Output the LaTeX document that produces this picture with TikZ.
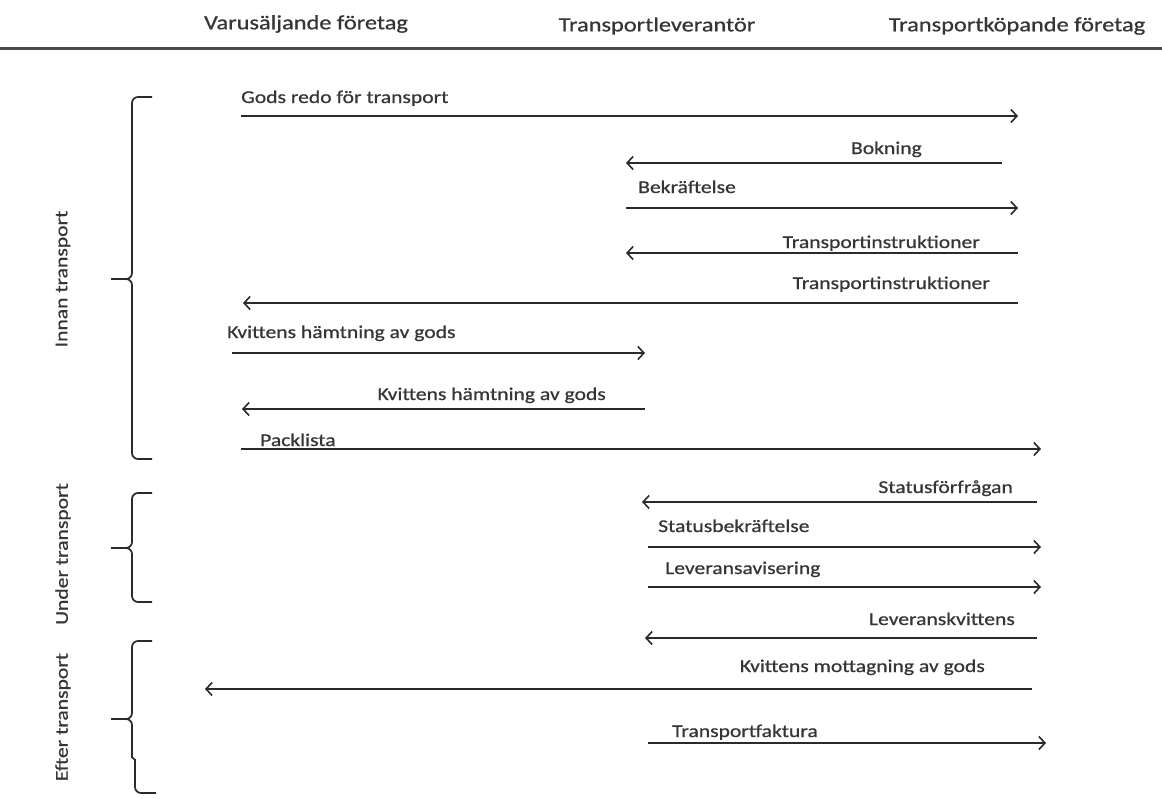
\documentclass[tikz,border=0pt]{standalone}
\usepackage{fontspec}
\setmainfont{Carlito}
\newfontfamily\lblfont{Carlito}[FakeBold=0.6]
\usetikzlibrary{arrows.meta}
\definecolor{ink}{HTML}{2A2A2A}
\definecolor{txt}{HTML}{353535}
% wide setting of the Calibri-like face
\newcommand{\widetxt}[1]{\scalebox{1.2}[1]{#1}}
\begin{document}
\begin{tikzpicture}[x=1pt,y=-1pt,
  msg/.style={draw=ink, line width=1.6pt,
    -{Straight Barb[length=6pt,width=13pt,line width=1.6pt]}},
  lbl/.style={inner sep=0pt, text=txt, font=\lblfont\fontsize{18}{21}\selectfont},
  head/.style={inner sep=0pt, text=txt, font=\lblfont\fontsize{20.3}{24}\selectfont},
  phase/.style={lbl, rotate=90},
  bracket/.style={draw=ink, line width=1.7pt, rounded corners=6pt}]
\useasboundingbox (0,0) rectangle (1162,798);

% column headings and rule
\node[head] (h1) at (306,24) {\widetxt{Varusäljande företag}};
\node[head] (h2) at (657,26) {\widetxt{Transportleverantör}};
\node[head] (h3) at (1017,26) {\widetxt{Transportköpande företag}};
\coordinate (ruleL) at (0,48);
\coordinate (ruleR) at (1162,48);
\draw[draw=ink!85, line width=3pt] (ruleL) -- (ruleR);

% message end points
\coordinate (a1) at (241,116);  \coordinate (b1) at (1018,116);
\coordinate (a2) at (1002,163); \coordinate (b2) at (626,163);
\coordinate (a3) at (626,208);  \coordinate (b3) at (1018,208);
\coordinate (a4) at (1018,253); \coordinate (b4) at (626,253);
\coordinate (a5) at (1018,303); \coordinate (b5) at (243,303);
\coordinate (a6) at (232,353);  \coordinate (b6) at (645,353);
\coordinate (a7) at (645,409);  \coordinate (b7) at (242,409);
\coordinate (a8) at (241,449);  \coordinate (b8) at (1041,449);
\coordinate (a9) at (1037,502); \coordinate (b9) at (642,502);
\coordinate (a10) at (648,547); \coordinate (b10) at (1041,547);
\coordinate (a11) at (648,587); \coordinate (b11) at (1041,587);
\coordinate (a12) at (1037,638); \coordinate (b12) at (645,638);
\coordinate (a13) at (1032,689); \coordinate (b13) at (205,689);
\coordinate (a14) at (648,743); \coordinate (b14) at (1046,743);

\draw[msg] (a1) -- (b1);
\draw[msg] (a2) -- (b2);
\draw[msg] (a3) -- (b3);
\draw[msg] (a4) -- (b4);
\draw[msg] (a5) -- (b5);
\draw[msg] (a6) -- (b6);
\draw[msg] (a7) -- (b7);
\draw[msg] (a8) -- (b8);
\draw[msg] (a9) -- (b9);
\draw[msg] (a10) -- (b10);
\draw[msg] (a11) -- (b11);
\draw[msg] (a12) -- (b12);
\draw[msg] (a13) -- (b13);
\draw[msg] (a14) -- (b14);

% message labels
\node[lbl, anchor=base west] (l1) at (241,103) {\widetxt{Gods redo för transport}};
\node[lbl, anchor=base east] (l2) at (922,154) {\widetxt{Bokning}};
\node[lbl, anchor=base west] (l3) at (638,193) {\widetxt{Bekräftelse}};
\node[lbl, anchor=base east] (l4) at (980,248) {\widetxt{Transportinstruktioner}};
\node[lbl, anchor=base east] (l5) at (990,289) {\widetxt{Transportinstruktioner}};
\node[lbl, anchor=base west] (l6) at (227,338) {\widetxt{Kvittens hämtning av gods}};
\node[lbl, anchor=base east] (l7) at (606,400) {\widetxt{Kvittens hämtning av gods}};
\node[lbl, anchor=base west] (l8) at (260,446) {\widetxt{Packlista}};
\node[lbl, anchor=base east] (l9) at (1013,493) {\widetxt{Statusförfrågan}};
\node[lbl, anchor=base west] (l10) at (658,532) {\widetxt{Statusbekräftelse}};
\node[lbl, anchor=base west] (l11) at (665,574) {\widetxt{Leveransavisering}};
\node[lbl, anchor=base east] (l12) at (1015,625) {\widetxt{Leveranskvittens}};
\node[lbl, anchor=base east] (l13) at (985,672) {\widetxt{Kvittens mottagning av gods}};
\node[lbl, anchor=base west] (l14) at (672,737) {\widetxt{Transportfaktura}};

% phase brackets
\draw[bracket] (152,97) -- (132,97) -- (132,279) -- (111,279);
\draw[bracket] (111,279) -- (132,279) -- (132,459) -- (152,459);
\draw[bracket] (152,493) -- (132,493) -- (132,548) -- (111,548);
\draw[bracket] (111,548) -- (132,548) -- (132,602) -- (152,602);
\draw[bracket] (152,641) -- (132,641) -- (132,719) -- (111,719);
\draw[bracket] (111,719) -- (132,719) -- (132,758);
\draw[draw=ink, line width=1.7pt] (132,757) -- (135,760);
\draw[bracket] (135,759) -- (135,793) -- (156,793);

% phase names
\node[phase] (p1) at (63,279) {\widetxt{Innan transport}};
\node[phase] (p2) at (63,554) {\widetxt{Under transport}};
\node[phase] (p3) at (63,717) {\widetxt{Efter transport}};
\end{tikzpicture}
\end{document}
